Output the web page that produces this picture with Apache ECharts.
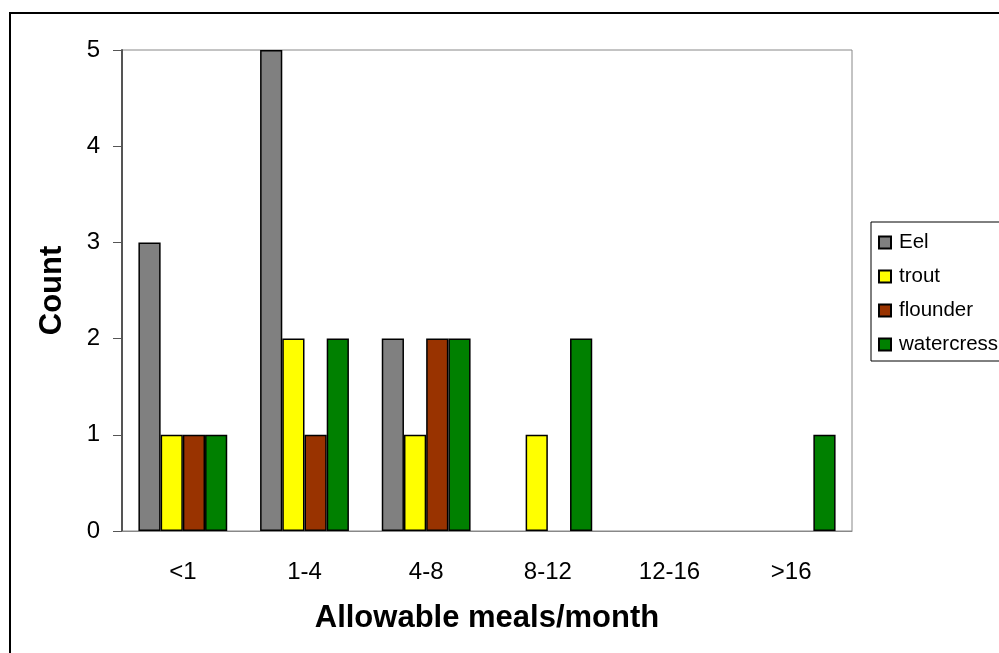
<!DOCTYPE html>
<html>
<head>
<meta charset="utf-8">
<script src="https://cdn.jsdelivr.net/npm/echarts@6/dist/echarts.min.js"></script>
<style>
  html, body { margin: 0; padding: 0; background: #fff; }
  #main { width: 999px; height: 653px; }
</style>
</head>
<body>
<div id="main"></div>
<script>
// categories and counts
const categories = ['<1', '1-4', '4-8', '8-12', '12-16', '>16']
const eel = [3, 5, 2, 0, 0, 0]
const trout = [1, 2, 1, 1, 0, 0]
const flounder = [1, 1, 2, 0, 0, 0]
const watercress = [1, 2, 2, 2, 0, 1]

const seriesList = [
  { name: 'Eel', data: eel, color: '#808080' },
  { name: 'trout', data: trout, color: '#ffff00' },
  { name: 'flounder', data: flounder, color: '#993300' },
  { name: 'watercress', data: watercress, color: '#008000' }
]

const font = 'Arial, "Liberation Sans", sans-serif'
let myChart = echarts.init(document.getElementById('main'))

let option = {
  animation: false,
  backgroundColor: '#fff',
  textStyle: { fontFamily: font },
  graphic: [{
    type: 'rect',
    shape: { x: 10, y: 13, width: 1000, height: 700 },
    style: { fill: 'none', stroke: '#000', lineWidth: 2 },
    z: -1
  }],
  grid: {
    left: 122,
    right: 147,
    top: 50,
    bottom: 122,
    show: true,
    borderColor: '#888',
    borderWidth: 1,
    backgroundColor: '#fff'
  },
  legend: {
    orient: 'vertical',
    left: 871,
    top: 222,
    width: 150,
    padding: [10, 40, 6, 7],
    itemGap: 13,
    itemWidth: 12,
    itemHeight: 12,
    icon: 'rect',
    borderColor: '#000',
    borderWidth: 1,
    backgroundColor: '#fff',
    textStyle: { fontFamily: font, fontSize: 20.5, color: '#000', padding: [0, 0, 0, 3] },
    data: seriesList.map(s => s.name)
  },
  xAxis: {
    type: 'category',
    data: categories,
    name: 'Allowable meals/month',
    nameLocation: 'middle',
    nameGap: 72,
    nameTextStyle: { fontFamily: font, fontSize: 31, fontWeight: 'bold', color: '#000' },
    axisLine: { lineStyle: { color: '#888', width: 1 } },
    axisTick: { length: 8, lineStyle: { color: '#444' } },
    axisLabel: { fontFamily: font, fontSize: 24, color: '#000', margin: 29 },
    splitLine: { show: false }
  },
  yAxis: {
    type: 'value',
    min: 0,
    max: 5,
    interval: 1,
    name: 'Count',
    nameLocation: 'middle',
    nameGap: 54,
    nameTextStyle: { fontFamily: font, fontSize: 31, fontWeight: 'bold', color: '#000' },
    axisLine: { show: true, lineStyle: { color: '#555', width: 2 } },
    axisTick: { show: true, length: 9, lineStyle: { color: '#555' } },
    axisLabel: { fontFamily: font, fontSize: 24, color: '#000', margin: 22 },
    splitLine: { show: false }
  },
  series: seriesList.map(function (s) {
    return {
      name: s.name,
      type: 'bar',
      barGap: 0,
      barCategoryGap: '27%',
      // zero counts draw nothing
      data: s.data.map(v => (v === 0 ? '-' : v)),
      itemStyle: { color: s.color, borderColor: '#000', borderWidth: 1.5 }
    }
  })
}
myChart.setOption(option, true)
</script>
</body>
</html>
